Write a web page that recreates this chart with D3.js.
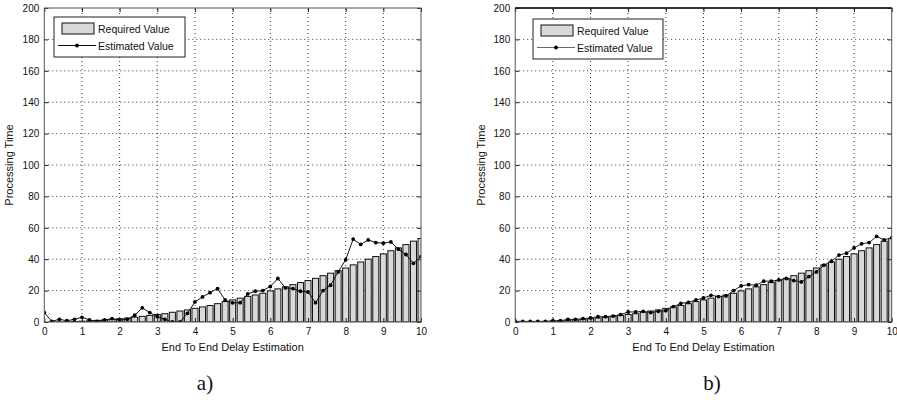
<!DOCTYPE html>
<html>
<head>
<meta charset="utf-8">
<script src="https://cdn.jsdelivr.net/npm/d3@7/dist/d3.min.js"></script>
<style>
  body { margin: 0; background: #fff; }
  svg { display: block; }
  text { font-family: "Liberation Sans", Arial, sans-serif; fill: #111; }
</style>
</head>
<body>
<svg id="chart" width="897" height="400"></svg>
<script>
// Sample positions along the x axis
const xValues = [0, 0.2, 0.4, 0.6, 0.8, 1, 1.2, 1.4, 1.6, 1.8, 2, 2.2, 2.4, 2.6, 2.8,
  3, 3.2, 3.4, 3.6, 3.8, 4, 4.2, 4.4, 4.6, 4.8, 5, 5.2, 5.4, 5.6, 5.8, 6, 6.2, 6.4,
  6.6, 6.8, 7, 7.2, 7.4, 7.6, 7.8, 8, 8.2, 8.4, 8.6, 8.8, 9, 9.2, 9.4, 9.6, 9.8, 10];

// Required processing time (bars), shared by both panels
const requiredValue = [0, 0.05, 0.1, 0.2, 0.35, 0.55, 0.75, 1.05, 1.35, 1.7, 2.1, 2.55,
  3.05, 3.6, 4.2, 4.8, 5.3, 6.2, 7.0, 7.7, 8.7, 9.6, 10.5, 11.7, 13.0, 14.1, 15.2,
  16.3, 17.2, 18.3, 19.8, 21.1, 22.4, 23.8, 25.1, 26.4, 27.8, 29.5, 31.1, 32.7, 34.4,
  36.4, 38.2, 40.0, 41.7, 43.4, 45.4, 47.2, 49.3, 51.5, 53.2];

// Estimated processing time, panel a)
const estimatedA = [6, 0.4, 1.7, 0.8, 1.7, 3.0, 1.3, 0.4, 1.3, 2.1, 1.3, 1.7, 4.3,
  9.0, 6.0, 3.4, 1.7, 0, 0, 5.5, 12.8, 16.0, 18.7, 21.3, 14.0, 12.2, 12.3, 17.9, 19.6,
  20.0, 22.6, 27.7, 21.7, 21.3, 19.6, 19.1, 12.3, 20.0, 23.4, 31.9, 39.6, 52.8, 49.4,
  52.3, 50.6, 50.2, 51.0, 46.4, 43.0, 37.4, 41.7];

// Estimated processing time, panel b)
const estimatedB = [0.4, 0.4, 0.4, 0.4, 0.4, 0.8, 0.8, 1.7, 1.7, 2.1, 2.6, 3.4, 3.4,
  3.8, 4.7, 6.4, 6.4, 6.8, 6.0, 6.8, 7.2, 9.8, 11.9, 12.5, 14.0, 15.3, 17.0, 16.2,
  16.6, 20.0, 23.0, 23.8, 23.4, 26.0, 26.0, 26.8, 27.7, 26.4, 25.5, 28.9, 31.9, 36.2,
  38.7, 42.6, 43.8, 47.2, 49.8, 50.6, 54.5, 52.3, 53.6];

const xTicks = [0, 1, 2, 3, 4, 5, 6, 7, 8, 9, 10];
const yTicks = [0, 20, 40, 60, 80, 100, 120, 140, 160, 180, 200];
const legendLabels = ["Required Value", "Estimated Value"];
const xTitle = "End To End Delay Estimation";
const yTitle = "Processing Time";
const panelLabels = ["a)", "b)"];

const svg = d3.select("#chart");

function drawPanel(cfg, idx) {
  const x = d3.scaleLinear().domain([0, 10]).range([cfg.left, cfg.right]);
  const y = d3.scaleLinear().domain([0, 200]).range([322, 8]);
  const g = svg.append("g");

  const clipId = "clip" + idx;
  svg.append("clipPath").attr("id", clipId)
    .append("rect")
    .attr("x", x(0)).attr("y", y(200))
    .attr("width", x(10) - x(0)).attr("height", y(0) - y(200));

  // dotted grid
  const grid = g.append("g").attr("stroke", "#000").attr("stroke-width", 0.8)
    .attr("stroke-dasharray", "1,3");
  grid.selectAll("line.v").data(xTicks.slice(1, -1)).join("line")
    .attr("x1", d => x(d)).attr("x2", d => x(d))
    .attr("y1", y(0)).attr("y2", y(200));
  grid.selectAll("line.h").data(yTicks.slice(1, -1)).join("line")
    .attr("y1", d => y(d)).attr("y2", d => y(d))
    .attr("x1", x(0)).attr("x2", x(10));

  // bars
  const bw = x(0.16) - x(0);
  g.append("g").attr("clip-path", `url(#${clipId})`)
    .selectAll("rect").data(xValues).join("rect")
    .attr("x", (d) => x(d) - bw / 2)
    .attr("y", (d, i) => y(requiredValue[i]))
    .attr("width", bw)
    .attr("height", (d, i) => y(0) - y(requiredValue[i]))
    .attr("fill", "#d9d9d9")
    .attr("stroke", "#111")
    .attr("stroke-width", 1);

  // estimated line with point markers
  const est = cfg.estimated;
  const line = d3.line().x((d, i) => x(xValues[i])).y(d => y(d));
  const lg = g.append("g").attr("clip-path", `url(#${clipId})`);
  lg.append("path").datum(est)
    .attr("d", line)
    .attr("fill", "none")
    .attr("stroke", cfg.lineColor)
    .attr("stroke-width", 1);
  lg.selectAll("circle").data(est).join("circle")
    .attr("cx", (d, i) => x(xValues[i]))
    .attr("cy", d => y(d))
    .attr("r", 1.9)
    .attr("fill", "#000");

  // axes with inward ticks
  const tickFont = s => s.selectAll("text")
    .style("font-size", "10px").style("font-family", "Liberation Sans, Arial, sans-serif")
    .attr("fill", "#111");
  const ax = g.append("g").attr("transform", `translate(0,${y(0)})`)
    .call(d3.axisBottom(x).tickValues(xTicks).tickSize(-4).tickPadding(6).tickFormat(d3.format("d")));
  ax.call(tickFont);
  const ay = g.append("g").attr("transform", `translate(${x(0)},0)`)
    .call(d3.axisLeft(y).tickValues(yTicks).tickSize(-4).tickPadding(5));
  ay.call(tickFont);
  const at = g.append("g").attr("transform", `translate(0,${y(200)})`)
    .call(d3.axisTop(x).tickValues(xTicks).tickSize(-4).tickFormat(""));
  const ar = g.append("g").attr("transform", `translate(${x(10)},0)`)
    .call(d3.axisRight(y).tickValues(yTicks).tickSize(-4).tickFormat(""));
  [ax, ay, at, ar].forEach(a => {
    a.select(".domain").remove();
    a.selectAll(".tick line").attr("stroke", "#222");
  });

  // axes box
  g.append("rect")
    .attr("x", x(0)).attr("y", y(200))
    .attr("width", x(10) - x(0)).attr("height", y(0) - y(200))
    .attr("fill", "none").attr("stroke", "#555").attr("stroke-width", 1);
  if (cfg.heavyTop) {
    g.append("line")
      .attr("x1", x(0)).attr("x2", x(10))
      .attr("y1", y(200)).attr("y2", y(200))
      .attr("stroke", "#111").attr("stroke-width", 1.6);
  }

  // axis titles
  g.append("text")
    .attr("x", (x(0) + x(10)) / 2).attr("y", 351)
    .attr("text-anchor", "middle")
    .style("font-size", "11px")
    .text(xTitle);
  g.append("text")
    .attr("transform", `translate(${cfg.yTitleX},165) rotate(-90)`)
    .attr("text-anchor", "middle")
    .style("font-size", "11px")
    .text(yTitle);

  // legend
  const L = cfg.legend;
  const leg = g.append("g");
  leg.append("rect")
    .attr("x", L.x).attr("y", L.y).attr("width", L.w).attr("height", L.h)
    .attr("fill", "#fff").attr("stroke", "#222").attr("stroke-width", 1);
  leg.append("rect")
    .attr("x", L.x + 8).attr("y", L.y + 6).attr("width", 32).attr("height", 11)
    .attr("fill", "#d9d9d9").attr("stroke", "#111").attr("stroke-width", 1);
  leg.append("line")
    .attr("x1", L.x + 4).attr("x2", L.x + 42)
    .attr("y1", L.y + 28.5).attr("y2", L.y + 28.5)
    .attr("stroke", cfg.legendLineColor).attr("stroke-width", 1);
  leg.append("circle")
    .attr("cx", L.x + 23).attr("cy", L.y + 28.5).attr("r", 1.9).attr("fill", "#000");
  leg.selectAll("text.lab").data(legendLabels).join("text")
    .attr("x", L.x + 44)
    .attr("y", (d, i) => L.y + 15.5 + i * 17)
    .style("font-size", "10.5px")
    .text(d => d);

  // panel caption
  svg.append("text")
    .attr("x", cfg.captionX).attr("y", 390)
    .attr("text-anchor", "middle")
    .style("font-family", "Liberation Serif, 'DejaVu Serif', serif")
    .style("font-size", "21px")
    .text(panelLabels[idx]);
}

drawPanel({
  left: 44.3, right: 421, estimated: estimatedA, lineColor: "#111",
  legendLineColor: "#111", yTitleX: 13,
  legend: { x: 54, y: 17, w: 131, h: 40 }, captionX: 205, heavyTop: false
}, 0);

drawPanel({
  left: 515.2, right: 891.7, estimated: estimatedB, lineColor: "#222",
  legendLineColor: "#666", yTitleX: 485,
  legend: { x: 533, y: 19, w: 130, h: 40 }, captionX: 712, heavyTop: true
}, 1);
</script>
</body>
</html>
